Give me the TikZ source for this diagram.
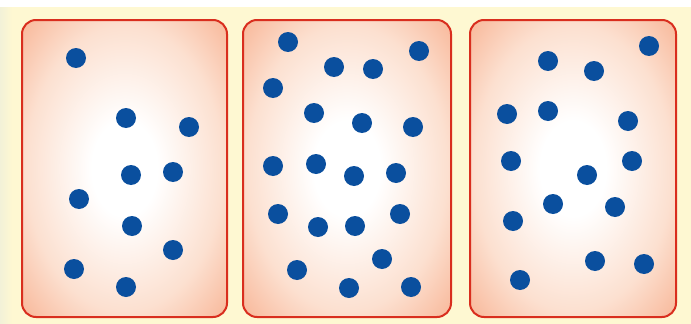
\documentclass[tikz,border=0pt]{standalone}
\usetikzlibrary{positioning}
\definecolor{bgyellow}{HTML}{FEF8D2}
\definecolor{bgleft}{HTML}{F2F1D8}
\definecolor{boxred}{HTML}{D92E1E}
\definecolor{peach}{HTML}{FCE0D0}
\definecolor{midsal}{HTML}{F8B596}
\definecolor{salmon}{HTML}{EE8560}
\definecolor{dotblue}{HTML}{0A4F9E}
\pgfdeclareradialshading{boxshade}{\pgfpoint{0bp}{0bp}}{color(0bp)=(white); color(8bp)=(white); color(24bp)=(peach); color(36bp)=(midsal); color(50bp)=(salmon); color(70bp)=(salmon)}
\tikzset{
  box/.style={draw=boxred, line width=2pt, rounded corners=14pt, shading=boxshade},
  dot/.style={circle, fill=dotblue, inner sep=0pt, minimum size=20pt}
}
\begin{document}
\begin{tikzpicture}[x=1pt,y=-1pt]
\useasboundingbox (0,0) rectangle (691,324);
\fill[bgyellow] (0,0) rectangle (691,324);
\shade[left color=bgleft, right color=bgyellow] (0,7) rectangle (12,324);
\fill[white] (0,0) rectangle (691,7);
% boxes
\shade[box] (22,20) rectangle (227,317);
\shade[box] (243,20) rectangle (451,317);
\shade[box] (470,20) rectangle (676,317);
% box 1 dots
\foreach \x/\y [count=\i] in {76/58,126/118,189/127,131/175,173/172,79/199,132/226,173/250,74/269,126/287}
  \node[dot] (a\i) at (\x,\y) {};
% box 2 dots
\foreach \x/\y [count=\i] in {288/42,334/67,373/69,419/51,273/88,314/113,362/123,413/127,273/166,316/164,354/176,396/173,278/214,318/227,355/226,400/214,297/270,382/259,349/288,411/287}
  \node[dot] (b\i) at (\x,\y) {};
% box 3 dots
\foreach \x/\y [count=\i] in {548/61,594/71,649/46,507/114,548/111,628/121,511/161,632/161,587/175,553/204,615/207,513/221,595/261,644/264,520/280}
  \node[dot] (c\i) at (\x,\y) {};
\end{tikzpicture}
\end{document}
